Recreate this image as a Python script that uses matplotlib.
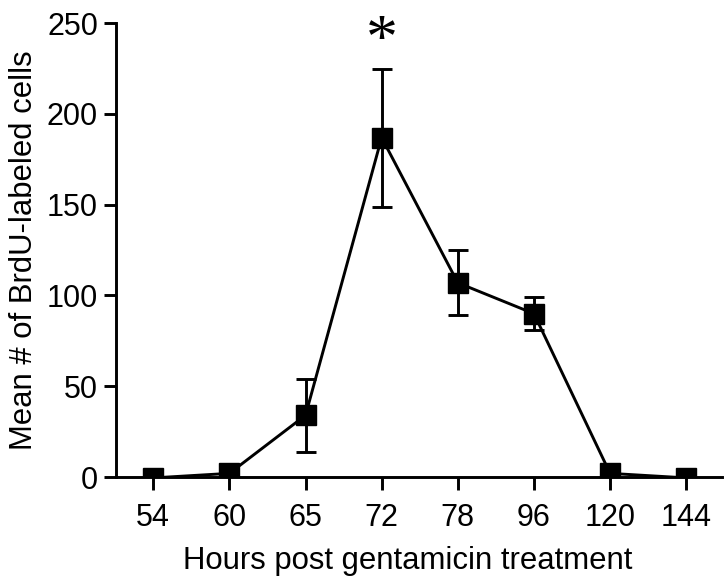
import matplotlib.pyplot as plt
import numpy as np

plt.rcParams['font.family'] = ['Liberation Sans', 'DejaVu Sans']

# hours post treatment (categorical, evenly spaced)
hours = ['54', '60', '65', '72', '78', '96', '120', '144']
mean_cells = [-0.5, 2, 34, 187, 107, 90, 2, -0.5]
sem_cells = [0, 0, 20, 38, 18, 9, 0, 0]

x = np.arange(len(hours))

fig = plt.figure(figsize=(7.26, 5.81), dpi=100)
ax = fig.add_axes([0.16, 0.179, 0.8345, 0.781])

ax.errorbar(x, mean_cells, yerr=sem_cells, color='black', lw=2.1,
            marker='s', markersize=14, capsize=7, capthick=2.1,
            elinewidth=2.1)

# significance marker over the 72 h point
ax.text(x[3], 239, '*', ha='center', va='center', fontsize=46,
        family='Liberation Serif')

ax.set_xlim(-0.487, 7.47)
ax.set_ylim(0, 250)
ax.set_xticks(x)
ax.set_xticklabels(hours)
ax.set_yticks([0, 50, 100, 150, 200, 250])

ax.spines['top'].set_visible(False)
ax.spines['right'].set_visible(False)
ax.spines['left'].set_linewidth(2.1)
ax.spines['bottom'].set_linewidth(2.1)
ax.tick_params(width=2.1, length=9, labelsize=22, pad=4)
ax.tick_params(axis='x', pad=10)

ax.set_xlabel('Hours post gentamicin treatment', fontsize=22.4, labelpad=9)
ax.set_ylabel('Mean # of BrdU-labeled cells', fontsize=22.4, labelpad=6)
ax.xaxis.label.set_x(0.482)

for s in ax.spines.values():
    s.set_clip_on(False)

fig.savefig('out.png', dpi=100)
